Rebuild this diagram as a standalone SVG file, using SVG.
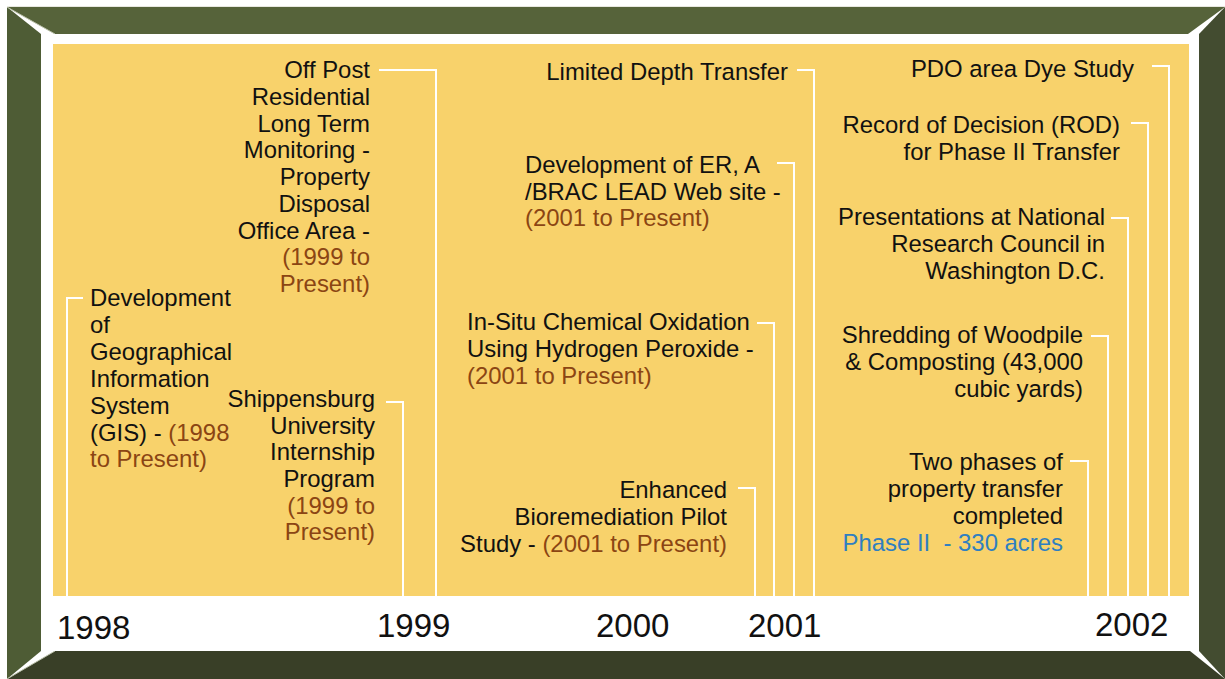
<svg xmlns="http://www.w3.org/2000/svg" width="1225" height="679" viewBox="0 0 1225 679">
<style>
text{font-family:"Liberation Sans",Arial,Helvetica,sans-serif;font-size:23.9px;fill:#111}
.r{text-anchor:end}
.d{fill:#8b4513}
.b{fill:#2f7fc1}
.y{font-size:33px}
.c{fill:none;stroke:#fff;stroke-width:2}
</style>
<g id="frame">
<rect x="0" y="0" width="1225" height="679" fill="#fff"/>
<polygon points="7,7 1225,7 1188,34 55,34" fill="#56633a"/>
<polygon points="7,7 41,34 41,651 7,679" fill="#4e5c35"/>
<polygon points="1225,7 1199,34 1199,651 1225,679" fill="#434c30"/>
<polygon points="7,679 55,651 1190,651 1225,679" fill="#393f27"/>
<line x1="7" y1="7" x2="55" y2="34" stroke="#b9bfa8" stroke-width="1"/>
<line x1="7" y1="679" x2="55" y2="651" stroke="#b9bfa8" stroke-width="1"/>
<line x1="7" y1="6.5" x2="1225" y2="6.5" stroke="#e8e8e0" stroke-width="1"/>
<rect x="41" y="34" width="1158" height="617" fill="#fff"/>
<rect x="53" y="44" width="1136" height="552" fill="#f8d26b"/>
</g>
<g id="connectors">
<path class="c" d="M83,298 H67 V596"/>
<path class="c" d="M379,70 H436 V596"/>
<path class="c" d="M386,402 H403 V596"/>
<path class="c" d="M797,70 H814 V596"/>
<path class="c" d="M777,163 H794 V596"/>
<path class="c" d="M757,323 H774 V596"/>
<path class="c" d="M738,488 H755 V596"/>
<path class="c" d="M1152,66 H1169 V596"/>
<path class="c" d="M1131,123 H1148 V596"/>
<path class="c" d="M1111,218 H1128 V596"/>
<path class="c" d="M1091,336 H1108 V596"/>
<path class="c" d="M1070,461 H1088 V596"/>
</g>
<g id="n-gis">
<text x="90" y="306">Development</text>
<text x="90" y="333">of</text>
<text x="90" y="360">Geographical</text>
<text x="90" y="387">Information</text>
<text x="90" y="414">System</text>
<text x="90" y="441">(GIS) - <tspan class="d">(1998</tspan></text>
<text x="90" y="467" class="d">to Present)</text>
</g>
<g id="n-offpost">
<text class="r" x="370" y="78">Off Post</text>
<text class="r" x="370" y="105">Residential</text>
<text class="r" x="370" y="132">Long Term</text>
<text class="r" x="370" y="158">Monitoring -</text>
<text class="r" x="370" y="185">Property</text>
<text class="r" x="370" y="212">Disposal</text>
<text class="r" x="370" y="239">Office Area -</text>
<text class="r d" x="370" y="265">(1999 to</text>
<text class="r d" x="370" y="292">Present)</text>
</g>
<g id="n-shippensburg">
<text class="r" x="375" y="407">Shippensburg</text>
<text class="r" x="375" y="434">University</text>
<text class="r" x="375" y="460">Internship</text>
<text class="r" x="375" y="487">Program</text>
<text class="r d" x="375" y="514">(1999 to</text>
<text class="r d" x="375" y="540">Present)</text>
</g>
<g id="n-limited">
<text class="r" x="788" y="80">Limited Depth Transfer</text>
</g>
<g id="n-web">
<text x="525" y="173">Development of ER, A</text>
<text x="525" y="200">/BRAC LEAD Web site -</text>
<text x="525" y="226" class="d">(2001 to Present)</text>
</g>
<g id="n-insitu">
<text x="467" y="330">In-Situ Chemical Oxidation</text>
<text x="467" y="357">Using Hydrogen Peroxide -</text>
<text x="467" y="384" class="d">(2001 to Present)</text>
</g>
<g id="n-bio">
<text class="r" x="727" y="498">Enhanced</text>
<text class="r" x="727" y="525">Bioremediation Pilot</text>
<text class="r" x="727" y="552">Study - <tspan class="d">(2001 to Present)</tspan></text>
</g>
<g id="n-pdo">
<text class="r" x="1134" y="77">PDO area Dye Study</text>
</g>
<g id="n-rod">
<text class="r" x="1120" y="133">Record of Decision (ROD)</text>
<text class="r" x="1120" y="160">for Phase II Transfer</text>
</g>
<g id="n-nrc">
<text class="r" x="1105" y="225">Presentations at National</text>
<text class="r" x="1105" y="252">Research Council in</text>
<text class="r" x="1105" y="279">Washington D.C.</text>
</g>
<g id="n-wood">
<text class="r" x="1083" y="343">Shredding of Woodpile</text>
<text class="r" x="1083" y="370">&amp; Composting (43,000</text>
<text class="r" x="1083" y="397">cubic yards)</text>
</g>
<g id="n-phases">
<text class="r" x="1063" y="470">Two phases of</text>
<text class="r" x="1063" y="497">property transfer</text>
<text class="r" x="1063" y="524">completed</text>
<text class="r b" x="1063" y="551" xml:space="preserve">Phase II  - 330 acres</text>
</g>
<g id="years">
<text class="y" x="57" y="639">1998</text>
<text class="y" x="377" y="637">1999</text>
<text class="y" x="596" y="637">2000</text>
<text class="y" x="748" y="637">2001</text>
<text class="y" x="1095" y="636">2002</text>
</g>
</svg>
